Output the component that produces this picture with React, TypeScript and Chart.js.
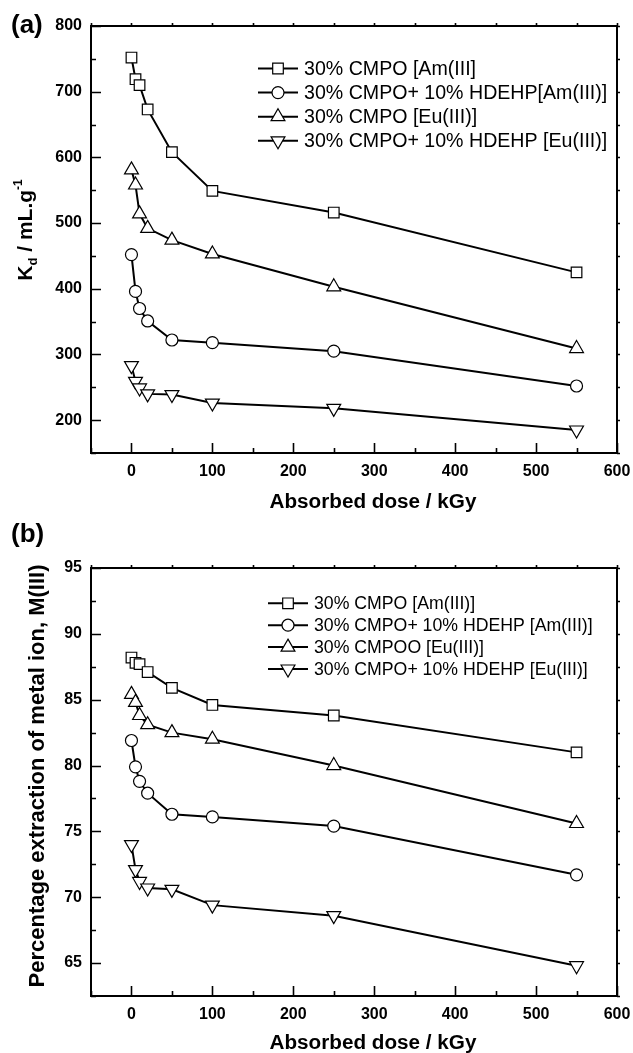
import React, { useEffect, useRef } from 'react';
import { Chart, registerables } from 'chart.js';
import { drawPoint } from 'chart.js/helpers';

Chart.register(...registerables);

const FONT = '"Liberation Sans", Arial, Helvetica, sans-serif';

// ---------- data ----------
const doseKGy = [0, 5, 10, 20, 50, 100, 250, 550];

// panel (a): Kd / mL.g-1
const kdAmCMPO = [752, 719, 710, 673, 608, 549, 516, 425];
const kdAmMix = [452, 396, 370, 351, 322, 318, 305, 252];
const kdEuCMPO = [581, 558, 514, 492, 474, 453, 403, 309];
const kdEuMix = [283, 259, 249, 240, 239, 226, 218, 185];

// panel (b): percentage extraction
const peAmCMPO = [88.2, 87.8, 87.7, 87.1, 85.9, 84.6, 83.8, 81.0];
const peAmMix = [81.9, 79.9, 78.8, 77.9, 76.3, 76.1, 75.4, 71.7];
const peEuCMPO = [85.4, 84.8, 83.8, 83.1, 82.5, 82.0, 80.0, 75.6];
const peEuMix = [74.0, 72.1, 71.2, 70.7, 70.6, 69.4, 68.6, 64.8];

const legendA = [
  '30% CMPO [Am(III]',
  '30% CMPO+ 10% HDEHP[Am(III)]',
  '30% CMPO [Eu(III)]',
  '30% CMPO+ 10% HDEHP [Eu(III)]',
];
const legendB = [
  '30% CMPO [Am(III)]',
  '30% CMPO+ 10% HDEHP [Am(III)]',
  '30% CMPOO [Eu(III)]',
  '30% CMPO+ 10% HDEHP [Eu(III)]',
];

const xAxisTitle = 'Absorbed dose / kGy';
const yTitleA = [
  { text: 'K', size: 21, dy: 0 },
  { text: 'd', size: 13, dy: 5 },
  { text: ' / mL.g', size: 21, dy: 0 },
  { text: '-1', size: 12, dy: -10 },
];
const yTitleB = [{ text: 'Percentage extraction of metal ion, M(III)', size: 22, dy: 0 }];

const xRange = [-50, 600];
const xStep = 50;
const xLabelEvery = 100;
const yRangeA = [150, 800];
const yStepA = 50;
const yLabelEveryA = 100;
const yRangeB = [62.5, 95];
const yStepB = 2.5;
const yLabelEveryB = 5;

const markers = [
  { pointStyle: 'rect', radius: 7.5, rotation: 0 },
  { pointStyle: 'circle', radius: 6, rotation: 0 },
  { pointStyle: 'triangle', radius: 8, rotation: 0 },
  { pointStyle: 'triangle', radius: 8, rotation: 180 },
];

// ---------- decoration plugin (frame, inward ticks, titles, legend) ----------
const decor = {
  id: 'decor',
  afterDraw(chart: any, _args: any, o: any) {
    const { ctx, chartArea: ca } = chart;
    const xs = chart.scales.x;
    const ys = chart.scales.y;
    ctx.save();
    ctx.strokeStyle = '#000';
    ctx.lineCap = 'butt';
    // ticks
    ctx.lineWidth = 1.6;
    ctx.beginPath();
    xs.ticks.forEach((t: any) => {
      const px = Math.round(xs.getPixelForValue(t.value)) + 0.5;
      const major = t.label !== '';
      const len = major ? 10 : 5;
      ctx.moveTo(px, ca.bottom);
      ctx.lineTo(px, ca.bottom - len);
      ctx.moveTo(px, ca.top);
      ctx.lineTo(px, ca.top - 3);
    });
    ys.ticks.forEach((t: any) => {
      const py = Math.round(ys.getPixelForValue(t.value)) + 0.5;
      const major = t.label !== '';
      const len = major ? 10 : 5;
      ctx.moveTo(ca.left, py);
      ctx.lineTo(ca.left + len, py);
      ctx.moveTo(ca.right, py);
      ctx.lineTo(ca.right + 3, py);
    });
    ctx.stroke();
    // frame
    ctx.lineWidth = 2;
    ctx.strokeRect(ca.left, ca.top, ca.right - ca.left, ca.bottom - ca.top);

    ctx.fillStyle = '#000';
    // panel label
    ctx.font = `bold 26px ${FONT}`;
    ctx.textAlign = 'left';
    ctx.textBaseline = 'middle';
    ctx.fillText(o.panel, o.panelX, o.panelY);

    // x title
    ctx.font = `bold 20.7px ${FONT}`;
    ctx.textAlign = 'center';
    ctx.textBaseline = 'middle';
    ctx.fillText(o.xTitle, o.xTitleX, o.xTitleY);

    // y title (rotated, with sub/superscripts)
    ctx.save();
    ctx.translate(o.yTitleX, o.yTitleY);
    ctx.rotate(-Math.PI / 2);
    ctx.textAlign = 'left';
    ctx.textBaseline = 'alphabetic';
    let total = 0;
    o.yTitle.forEach((p: any) => {
      ctx.font = `bold ${p.size}px ${FONT}`;
      total += ctx.measureText(p.text).width;
    });
    let cx = -total / 2;
    o.yTitle.forEach((p: any) => {
      ctx.font = `bold ${p.size}px ${FONT}`;
      ctx.fillText(p.text, cx, p.dy);
      cx += ctx.measureText(p.text).width;
    });
    ctx.restore();

    // legend
    const L = o.legend;
    chart.data.datasets.forEach((ds: any, i: number) => {
      const yy = L.y + i * L.dy;
      ctx.strokeStyle = '#000';
      ctx.lineWidth = 2;
      ctx.beginPath();
      ctx.moveTo(L.x, yy);
      ctx.lineTo(L.x + 40, yy);
      ctx.stroke();
      ctx.fillStyle = '#fff';
      ctx.lineWidth = 1.2;
      const m = markers[i];
      drawPoint(ctx, { pointStyle: m.pointStyle, radius: m.radius, rotation: m.rotation, borderWidth: 1.2 } as any, L.x + 20, yy);
      ctx.fillStyle = '#000';
      ctx.font = `${L.size}px ${FONT}`;
      ctx.textAlign = 'left';
      ctx.textBaseline = 'middle';
      ctx.fillText(ds.label, L.x + 46, yy + 1);
    });
    ctx.restore();
  },
};

function makeDatasets(series: number[][], labels: string[]) {
  return series.map((vals, i) => ({
    label: labels[i],
    data: doseKGy.map((d, j) => ({ x: d, y: vals[j] })),
    borderColor: '#000',
    borderWidth: 2,
    tension: 0,
    fill: false,
    pointStyle: markers[i].pointStyle,
    pointRadius: markers[i].radius,
    pointRotation: markers[i].rotation,
    pointBackgroundColor: '#fff',
    pointBorderColor: '#000',
    pointBorderWidth: 1.2,
    clip: false,
  }));
}

function makeConfig(p: any) {
  const tickFont = { family: FONT, size: 16, weight: 'bold' as const };
  return {
    type: 'line' as const,
    data: { datasets: makeDatasets(p.series, p.labels) },
    plugins: [decor],
    options: {
      responsive: false,
      animation: false as const,
      events: [],
      layout: { padding: { top: p.top, right: 16, left: 0, bottom: 0 } },
      scales: {
        x: {
          type: 'linear' as const,
          min: xRange[0],
          max: xRange[1],
          grid: { display: false, drawTicks: false },
          border: { display: false },
          ticks: {
            stepSize: xStep,
            autoSkip: false,
            maxRotation: 0,
            padding: 9,
            color: '#000',
            font: tickFont,
            callback: (v: any) => (Math.abs(v % xLabelEvery) < 1e-6 ? String(v) : ''),
          },
          afterFit: (s: any) => {
            s.height = p.xAxisH;
            s.paddingLeft = 0;
            s.paddingRight = 0;
          },
        },
        y: {
          type: 'linear' as const,
          min: p.yRange[0],
          max: p.yRange[1],
          grid: { display: false, drawTicks: false },
          border: { display: false },
          ticks: {
            stepSize: p.yStep,
            autoSkip: false,
            padding: 9,
            color: '#000',
            font: tickFont,
            callback: (v: any) => (Math.abs(v % p.yLabelEvery) < 1e-6 ? String(v) : ''),
          },
          afterFit: (s: any) => {
            s.width = 91;
            s.paddingTop = 0;
            s.paddingBottom = 0;
          },
        },
      },
      plugins: {
        legend: { display: false },
        tooltip: { enabled: false },
        decor: p.decor,
      },
    },
  };
}

function Panel(props: { cfg: any; width: number; height: number; top: number }) {
  const ref = useRef<HTMLCanvasElement>(null);
  useEffect(() => {
    if (!ref.current) return;
    const chart = new Chart(ref.current, makeConfig(props.cfg) as any);
    return () => chart.destroy();
  }, []);
  return (
    <canvas
      ref={ref}
      width={props.width}
      height={props.height}
      style={{ position: 'absolute', left: 0, top: props.top, width: props.width, height: props.height }}
    />
  );
}

const cfgA = {
  series: [kdAmCMPO, kdAmMix, kdEuCMPO, kdEuMix],
  labels: legendA,
  top: 26,
  xAxisH: 520 - 453,
  yRange: yRangeA,
  yStep: yStepA,
  yLabelEvery: yLabelEveryA,
  decor: {
    panel: '(a)',
    panelX: 11,
    panelY: 26,
    xTitle: xAxisTitle,
    xTitleX: 373,
    xTitleY: 502,
    yTitle: yTitleA,
    yTitleX: 32,
    yTitleY: 230,
    legend: { x: 258, y: 68.5, dy: 24.1, size: 19.6 },
  },
};

const cfgB = {
  series: [peAmCMPO, peAmMix, peEuCMPO, peEuMix],
  labels: legendB,
  top: 48,
  xAxisH: 533 - 476,
  yRange: yRangeB,
  yStep: yStepB,
  yLabelEvery: yLabelEveryB,
  decor: {
    panel: '(b)',
    panelX: 11,
    panelY: 15,
    xTitle: xAxisTitle,
    xTitleX: 373,
    xTitleY: 523,
    yTitle: yTitleB,
    yTitleX: 44,
    yTitleY: 256,
    legend: { x: 268, y: 83.3, dy: 21.9, size: 17.7 },
  },
};

export default function App() {
  return (
    <div style={{ position: 'absolute', left: 0, top: 0, width: 633, height: 1053, background: '#fff' }}>
      <Panel cfg={cfgA} width={633} height={520} top={0} />
      <Panel cfg={cfgB} width={633} height={533} top={520} />
    </div>
  );
}
